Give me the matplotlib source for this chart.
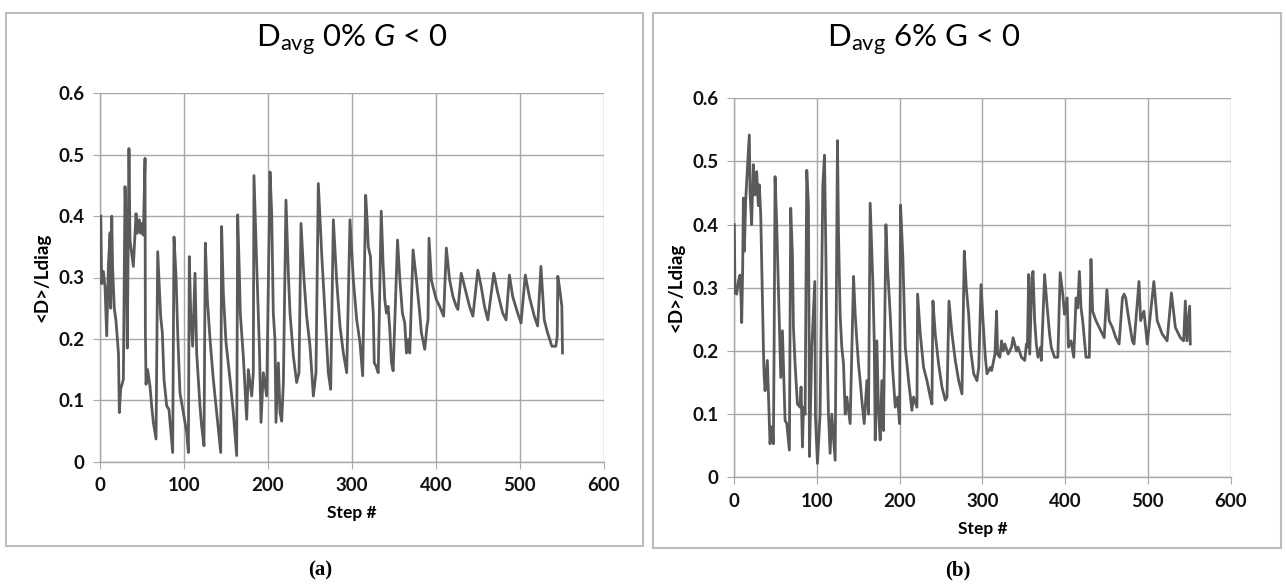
import matplotlib.pyplot as plt
from matplotlib.patches import Rectangle

# panel (a): Davg 0% G < 0 (step, <D>/Ldiag)
steps_a = [1, 2, 4, 6, 8, 10, 12, 12.7, 14, 15, 17, 19, 22, 23, 24.6, 27.8, 29.8, 31, 32.5,
           34.5, 35.7, 39.7, 42.9, 44.4, 46.8, 48.4, 50, 51.6, 53.6, 54, 54.8, 56.7, 59.5,
           61.5, 63.5, 66.7, 68.7, 72.2, 74.2, 76.2, 79.4, 82.1, 86.5, 88.1, 90.5, 92.5,
           95.2, 99.2, 103.2, 105.2, 106.3, 108, 110.3, 113.1, 115.1, 117, 119, 121, 123.8,
           125.4, 127.8, 131, 134.9, 138.9, 143.7, 144.8, 146.8, 150, 154.8, 158.7, 162.7,
           163.9, 165.9, 167, 170.6, 174.6, 176.6, 180.6, 182.5, 183.3, 186.5, 189.7, 191.7,
           194.4, 198.4, 202.4, 204.4, 206.3, 208.3, 209.5, 212.3, 214.3, 216.3, 218.3,
           221.4, 224.2, 226.2, 230.2, 234.1, 236.9, 239.3, 242.9, 246, 250, 254, 257.1,
           259.9, 263.9, 267.9, 271.8, 274.6, 277.8, 281.7, 285.7, 289.7, 293.7, 297.6,
           301.6, 305.6, 309.5, 312.7, 316.3, 318.2, 319.4, 322, 323.3, 325.3, 326.5, 328.5,
           331.2, 334.8, 337, 339, 341, 343, 345, 347, 349, 354.2, 357, 360, 362.8, 364.8,
           366.8, 368.8, 372.7, 376.7, 380.6, 382.6, 386.6, 389.3, 390.5, 391.7, 394.5,
           396.4, 400.4, 404.3, 409.1, 412.3, 414.2, 416.2, 420.2, 424.1, 426.1, 430, 434,
           439.9, 443.9, 449.8, 453.8, 457.7, 461.7, 468.8, 473.5, 479.4, 483.4, 487.4,
           491.3, 497.2, 501.2, 506.3, 511.1, 517, 521, 524.9, 528.9, 532.8, 538, 542.7,
           544.3, 545, 547.4, 549.8, 550.6]
ratio_a = [0.40, 0.29, 0.31, 0.284, 0.205, 0.32, 0.373, 0.25, 0.40, 0.316, 0.25, 0.23, 0.176,
           0.08, 0.118, 0.134, 0.448, 0.39, 0.185, 0.51, 0.361, 0.318, 0.404, 0.372, 0.394,
           0.372, 0.388, 0.369, 0.494, 0.215, 0.126, 0.15, 0.123, 0.091, 0.064, 0.037, 0.342,
           0.237, 0.21, 0.134, 0.091, 0.085, 0.015, 0.366, 0.302, 0.21, 0.112, 0.08, 0.048,
           0.015, 0.334, 0.242, 0.188, 0.307, 0.177, 0.134, 0.091, 0.058, 0.026, 0.356,
           0.264, 0.199, 0.134, 0.08, 0.015, 0.383, 0.275, 0.194, 0.134, 0.08, 0.01, 0.402,
           0.307, 0.242, 0.172, 0.069, 0.15, 0.107, 0.145, 0.466, 0.323, 0.188, 0.064, 0.145,
           0.107, 0.472, 0.404, 0.242, 0.199, 0.064, 0.161, 0.08, 0.066, 0.129, 0.426, 0.307,
           0.242, 0.172, 0.129, 0.145, 0.388, 0.296, 0.237, 0.188, 0.107, 0.145, 0.453,
           0.339, 0.242, 0.145, 0.118, 0.394, 0.296, 0.221, 0.177, 0.145, 0.394, 0.296,
           0.231, 0.194, 0.14, 0.434, 0.388, 0.35, 0.334, 0.285, 0.242, 0.161, 0.156, 0.145,
           0.408, 0.323, 0.264, 0.242, 0.253, 0.215, 0.161, 0.148, 0.361, 0.296, 0.242,
           0.226, 0.177, 0.199, 0.177, 0.345, 0.296, 0.242, 0.21, 0.183, 0.221, 0.231, 0.364,
           0.296, 0.285, 0.264, 0.253, 0.237, 0.348, 0.323, 0.296, 0.269, 0.253, 0.248,
           0.307, 0.285, 0.253, 0.237, 0.312, 0.285, 0.253, 0.231, 0.307, 0.275, 0.242,
           0.231, 0.304, 0.269, 0.242, 0.226, 0.304, 0.269, 0.237, 0.221, 0.318, 0.231, 0.21,
           0.188, 0.188, 0.204, 0.302, 0.28, 0.253, 0.177]

# panel (b): Davg 6% G < 0
steps_b = [0.4, 1.2, 3.2, 5.2, 7.2, 8.5, 9.3, 10.5, 11.3, 12.5, 14.1, 15.3, 18.5, 19.3, 21.3,
           23.3, 25.4, 27.4, 29.4, 30.6, 32.3, 35.5, 36.3, 37.5, 40.3, 43.5, 45.6, 47.6,
           48.4, 49.6, 51.6, 53.6, 55.6, 56.5, 58.5, 61.7, 63.7, 66.9, 68.5, 70.6, 71.8,
           73.8, 76.6, 79.8, 81, 82.7, 83.9, 85.9, 87.9, 89.9, 90.7, 91.1, 94, 97.6, 98.4,
           100.8, 104, 107.3, 109.3, 110.9, 112.1, 114.1, 116.1, 118.1, 122.2, 125, 126.2,
           128.2, 130.2, 132.3, 134.3, 136.3, 140.3, 144.4, 146.4, 148.4, 150.4, 152.4,
           154.4, 157.3, 160.5, 162.5, 164.5, 165.7, 167.7, 169.4, 170.6, 172.6, 174.6,
           176.6, 178.6, 180.6, 183.5, 185.5, 188.7, 191.5, 194.8, 197.6, 200, 201.2, 204,
           206.9, 210.9, 214.9, 216.9, 221, 221.8, 225, 229, 233.1, 237.1, 239.1, 240.3,
           243.1, 247.2, 251.2, 255.2, 257.3, 259.7, 263.3, 267.3, 271.4, 275.4, 278.2,
           280.6, 283.5, 285.5, 289.5, 293.5, 295.6, 298.4, 300.8, 303.6, 305.6, 309.7,
           311.2, 315.2, 317.2, 318.4, 321.2, 323.2, 325.2, 327.2, 331.2, 335.2, 337.2,
           341.2, 343.2, 347.2, 351.2, 353.2, 354.4, 356, 357.2, 360, 361.2, 363.2, 365.2,
           367.2, 370.4, 371.2, 375.2, 378.4, 381.2, 383.2, 387.2, 391.2, 394, 397.2, 399.2,
           402.4, 404, 407.2, 410.4, 413.2, 415.2, 417.2, 419.2, 421.2, 425.2, 429.2, 431.2,
           433.2, 437.2, 443.2, 447.2, 450.4, 453.2, 457.2, 461.2, 465.2, 469.2, 471.2,
           473.2, 476, 481.2, 483.2, 489.2, 491.2, 495.2, 499.2, 507.2, 511.2, 517.2, 523.2,
           528.4, 533.2, 539.2, 543.2, 545.2, 547.2, 550.4, 551.2]
ratio_b = [0.40, 0.292, 0.29, 0.31, 0.32, 0.284, 0.245, 0.332, 0.442, 0.358, 0.437, 0.468,
           0.542, 0.453, 0.40, 0.495, 0.447, 0.484, 0.43, 0.463, 0.415, 0.206, 0.164, 0.137,
           0.185, 0.053, 0.08, 0.053, 0.195, 0.476, 0.40, 0.30, 0.195, 0.158, 0.232, 0.09,
           0.085, 0.043, 0.426, 0.352, 0.237, 0.179, 0.116, 0.111, 0.143, 0.048, 0.111, 0.1,
           0.486, 0.431, 0.216, 0.033, 0.206, 0.31, 0.095, 0.022, 0.1, 0.462, 0.51, 0.363,
           0.227, 0.1, 0.038, 0.1, 0.027, 0.533, 0.389, 0.258, 0.206, 0.179, 0.1, 0.127,
           0.085, 0.318, 0.258, 0.216, 0.179, 0.153, 0.122, 0.085, 0.153, 0.1, 0.434, 0.389,
           0.31, 0.216, 0.059, 0.216, 0.1, 0.059, 0.153, 0.074, 0.40, 0.331, 0.258, 0.174,
           0.111, 0.127, 0.085, 0.431, 0.347, 0.206, 0.153, 0.106, 0.127, 0.111, 0.29, 0.227,
           0.174, 0.153, 0.127, 0.116, 0.279, 0.227, 0.179, 0.143, 0.122, 0.127, 0.279,
           0.227, 0.185, 0.153, 0.132, 0.358, 0.30, 0.258, 0.206, 0.164, 0.153, 0.174, 0.305,
           0.248, 0.19, 0.164, 0.174, 0.169, 0.195, 0.263, 0.195, 0.19, 0.216, 0.2, 0.211,
           0.195, 0.206, 0.221, 0.2, 0.206, 0.19, 0.185, 0.211, 0.206, 0.321, 0.195, 0.316,
           0.326, 0.248, 0.211, 0.19, 0.206, 0.185, 0.321, 0.268, 0.227, 0.206, 0.19, 0.19,
           0.324, 0.289, 0.258, 0.284, 0.206, 0.216, 0.19, 0.284, 0.268, 0.326, 0.268, 0.248,
           0.19, 0.19, 0.345, 0.263, 0.248, 0.232, 0.221, 0.297, 0.248, 0.237, 0.221, 0.211,
           0.284, 0.29, 0.284, 0.258, 0.216, 0.211, 0.31, 0.248, 0.263, 0.211, 0.31, 0.248,
           0.227, 0.216, 0.292, 0.237, 0.221, 0.216, 0.279, 0.216, 0.271, 0.211]

titles = ['D$_{\\mathregular{avg}}$ 0% $G$ < 0', 'D$_{\\mathregular{avg}}$ 6% G < 0']
captions = ['(a)', '(b)']
xticks = [0, 100, 200, 300, 400, 500, 600]
yticks = [0, 0.1, 0.2, 0.3, 0.4, 0.5, 0.6]

plt.rcParams['font.family'] = ['Lato', 'DejaVu Sans']
plt.rcParams['mathtext.fontset'] = 'custom'
plt.rcParams['mathtext.rm'] = 'Lato'
plt.rcParams['mathtext.it'] = 'Lato:italic'

fig = plt.figure(figsize=(12.86, 5.84), dpi=100)

# outer chart boxes
fig.patches.append(Rectangle((6/1286, 1-546/584), 637/1286, 533/584, transform=fig.transFigure,
                             fill=False, edgecolor='#bdbdbd', lw=1.5))
fig.patches.append(Rectangle((653/1286, 1-548/584), 628/1286, 535/584, transform=fig.transFigure,
                             fill=False, edgecolor='#bdbdbd', lw=1.5))

axes_pos = [[100/1286, 1-461.7/584, 504/1286, 368.4/584],
            [734/1286, 1-477.3/584, 496.7/1286, 379/584]]
data = [(steps_a, ratio_a), (steps_b, ratio_b)]
title_x = [352/1286, 924/1286]
cap_x = [320/1286, 958/1286]

for i in range(2):
    ax = fig.add_axes(axes_pos[i])
    ax.plot(data[i][0], data[i][1], color='#5a5a5a', lw=2.0, zorder=3)
    ax.set_xlim(0, 600)
    ax.set_ylim(0, 0.6)
    ax.set_xticks(xticks)
    ax.set_yticks(yticks)
    ax.set_xticklabels([str(t) for t in xticks], fontsize=13.5, fontweight='bold')
    ax.set_yticklabels(['0'] + ['%.1f' % t for t in yticks[1:]], fontsize=13.5, fontweight='bold')
    ax.grid(True, color='#a8a8a8', lw=1.0)
    ax.set_axisbelow(True)
    for s in ['top', 'right']:
        ax.spines[s].set_visible(False)
    for s in ['left', 'bottom']:
        ax.spines[s].set_color('#a8a8a8')
        ax.spines[s].set_linewidth(1.0)
    ax.tick_params(direction='out', length=5, color='#a8a8a8', pad=6, labelcolor='#111111')
    ax.set_xlabel('Step #', fontsize=12.5, fontweight='bold', labelpad=8)
    ax.set_ylabel('<D>/Ldiag', fontsize=13.5, fontweight='bold', labelpad=6)
    fig.text(title_x[i], 1-40/584, titles[i], fontsize=22.5, ha='center', va='center')
    fig.text(cap_x[i], 1-570/584, captions[i], fontsize=15, ha='center', va='center',
             family='Liberation Serif', fontweight='bold')

fig.savefig('out.png', dpi=100)
